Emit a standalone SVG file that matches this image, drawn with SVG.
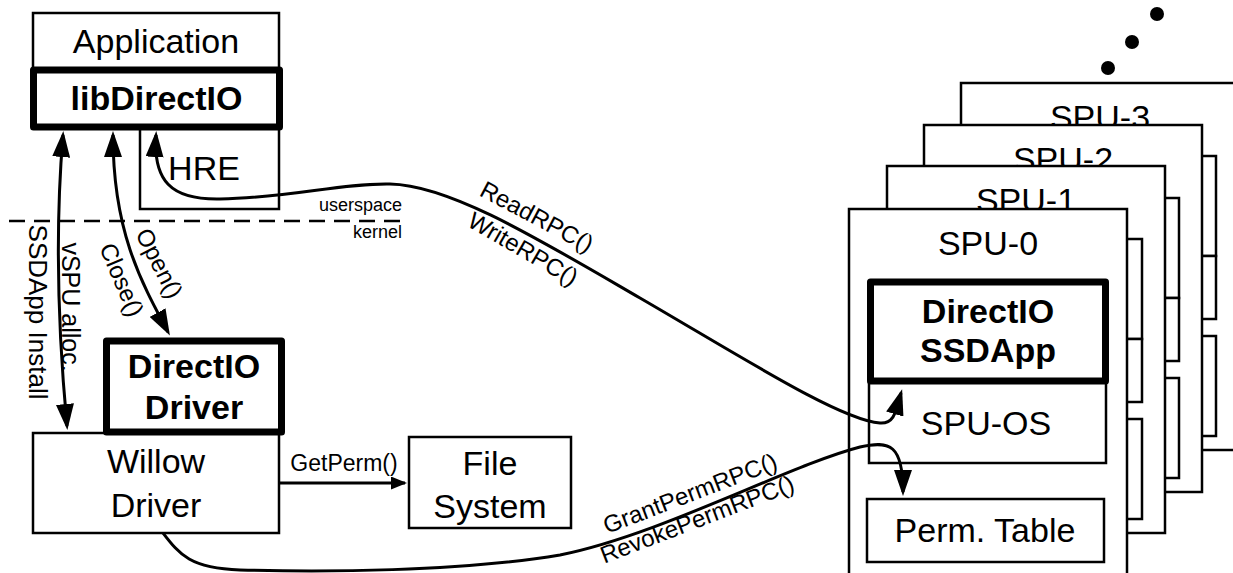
<svg xmlns="http://www.w3.org/2000/svg" width="1233" height="573" viewBox="0 0 1233 573">
<style>
.box{fill:#fff;stroke:#000;stroke-width:2.5}
.thick{fill:#fff;stroke:#000;stroke-width:7;stroke-linejoin:round}
.t{font-family:"Liberation Sans",Arial,Helvetica,sans-serif;fill:#000}
.big{font-size:34px;text-anchor:middle}
.bold{font-size:34px;font-weight:bold;text-anchor:middle}
.lbl{font-size:24px;text-anchor:middle}
.sm{font-size:18px;text-anchor:end}
.con{fill:none;stroke:#000;stroke-width:3}
</style>
<defs>
<marker id="ah" viewBox="0 0 26 18" refX="22" refY="9" markerWidth="26" markerHeight="18" markerUnits="userSpaceOnUse" orient="auto-start-reverse"><path d="M0,0 L26,9 L0,18 z"/></marker>
<marker id="ahs" viewBox="0 0 16 13" refX="14" refY="6.5" markerWidth="16" markerHeight="13" markerUnits="userSpaceOnUse" orient="auto"><path d="M0,0 L16,6.5 L0,13 z"/></marker>
<g id="spuBack">
<rect class="box" x="0" y="0" width="278" height="367"/>
<rect class="box" x="19" y="73" width="236" height="100"/>
<rect class="box" x="19" y="173" width="236" height="63"/>
<rect class="box" x="19" y="253" width="236" height="100"/>
</g>
</defs>
<rect width="1233" height="573" fill="#fff"/>

<g id="application">
<rect class="box" x="33" y="13" width="246" height="57"/>
<text class="t big" x="156" y="53">Application</text>
</g>
<g id="hre">
<rect class="box" x="140" y="127" width="139" height="82"/>
<text class="t big" x="204" y="180">HRE</text>
</g>
<g id="libdirectio">
<rect class="thick" x="33.5" y="70" width="246" height="57"/>
<text class="t bold" x="156.5" y="110">libDirectIO</text>
</g>

<g id="boundary">
<line x1="9" y1="221" x2="408" y2="221" stroke="#000" stroke-width="2.5" stroke-dasharray="16,9"/>
<text class="t sm" x="402" y="211">userspace</text>
<text class="t sm" x="402" y="238">kernel</text>
</g>

<g id="willow">
<rect class="box" x="33" y="433" width="246" height="100"/>
<text class="t big" x="156" y="473">Willow</text>
<text class="t big" x="156" y="517">Driver</text>
</g>
<g id="directio-driver">
<rect class="thick" x="106.5" y="341" width="175" height="91"/>
<text class="t bold" x="194" y="378">DirectIO</text>
<text class="t bold" x="194" y="419">Driver</text>
</g>
<g id="filesystem">
<rect class="box" x="409" y="437" width="162" height="91"/>
<text class="t big" x="490" y="475">File</text>
<text class="t big" x="490" y="518">System</text>
</g>

<g id="dots">
<circle cx="1108" cy="68" r="7"/>
<circle cx="1132" cy="42" r="7"/>
<circle cx="1157" cy="14" r="7"/>
</g>
<g id="spu-3">
<use href="#spuBack" x="961" y="83"/>
<text class="t big" x="1100" y="129">SPU-3</text>
</g>
<g id="spu-2">
<use href="#spuBack" x="924" y="125"/>
<text class="t big" x="1063" y="171">SPU-2</text>
</g>
<g id="spu-1">
<use href="#spuBack" x="887" y="166"/>
<text class="t big" x="1026" y="212">SPU-1</text>
</g>
<g id="spu-0">
<rect class="box" x="849" y="209" width="278" height="367"/>
<text class="t big" x="988" y="255">SPU-0</text>
<rect class="box" x="869" y="381" width="237" height="82"/>
<text class="t big" x="986" y="435">SPU-OS</text>
<rect class="thick" x="870.5" y="282" width="235" height="99"/>
<text class="t bold" x="988" y="323">DirectIO</text>
<text class="t bold" x="988" y="362">SSDApp</text>
<rect class="box" x="867" y="499" width="237" height="63"/>
<text class="t big" x="985" y="542">Perm. Table</text>
</g>

<g id="connectors">
<path class="con" d="M63,135 C55,230 58,330 67,426" marker-start="url(#ah)" marker-end="url(#ah)"/>
<path class="con" d="M113,135 C113,230 140,280 168,332" marker-start="url(#ah)" marker-end="url(#ah)"/>
<path class="con" d="M156,135 C153,180 170,200 220,199 C290,198 340,183 390,184 C450,185 540,240 640,298 C740,356 840,420 880,423 C895,424 896,410 901,393" marker-start="url(#ah)" marker-end="url(#ah)"/>
<path class="con" d="M163,533 C180,555 190,568 240,570 C320,572 460,572 560,555 C660,535 790,465 860,447 C890,440 903,445 903,492" marker-end="url(#ah)"/>
<path class="con" d="M279,483 L405,483" stroke-width="2.5" marker-end="url(#ahs)"/>
<text class="t lbl" transform="translate(62,307) rotate(90)" style="font-size:25px">vSPU alloc.</text>
<text class="t lbl" transform="translate(29,312) rotate(90)" style="font-size:26px">SSDApp Install</text>
<text class="t lbl" transform="translate(152,267) rotate(63)">Open()</text>
<text class="t lbl" transform="translate(114,283) rotate(67)">Close()</text>
<text class="t lbl" transform="translate(533,224) rotate(28)">ReadRPC()</text>
<text class="t lbl" transform="translate(519,256) rotate(30)">WriteRPC()</text>
<text class="t lbl" transform="translate(693,501) rotate(-21)">GrantPermRPC()</text>
<text class="t lbl" transform="translate(700,527) rotate(-21)">RevokePermRPC()</text>
<text class="t" x="344" y="471" font-size="23" text-anchor="middle">GetPerm()</text>
</g>
</svg>
